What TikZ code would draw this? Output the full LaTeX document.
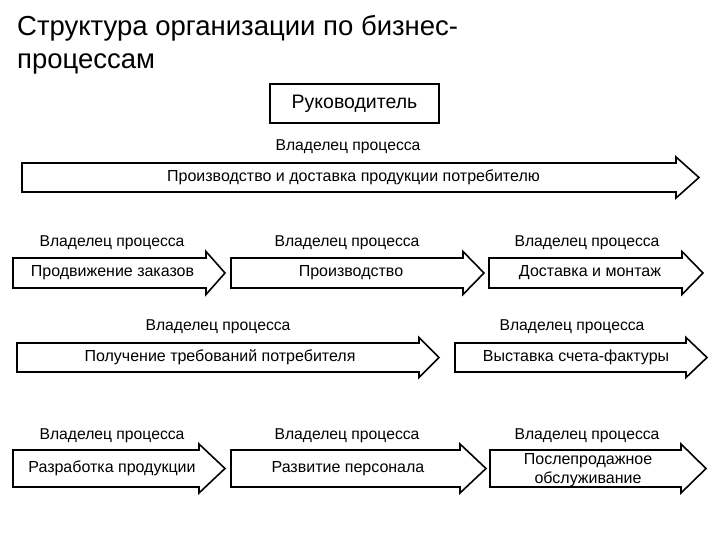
\documentclass[tikz,border=0pt]{standalone}
\usepackage{fontspec}
\setmainfont{Liberation Sans}
\begin{document}
\begin{tikzpicture}[x=1pt,y=-1pt,
    procShape/.style={draw=black, line width=1.6pt, fill=white, line join=miter},
    procText/.style={font=\fontsize{16}{18}\selectfont, align=center, inner sep=0pt},
    ownerLabel/.style={font=\fontsize{15.7}{18}\selectfont, inner sep=0pt},
  ]
  \useasboundingbox (0,0) rectangle (720,540);

  % arrow: tail x, tip x, axis y, half body, half head, head length
  \newcommand{\procArrow}[6]{%
    \draw[procShape] (#1,#3-#4) -- (#2-#6,#3-#4) -- (#2-#6,#3-#5) -- (#2,#3)
      -- (#2-#6,#3+#5) -- (#2-#6,#3+#4) -- (#1,#3+#4) -- cycle;}

  \pgfmathsetmacro{\rowA}{177.5}
  \pgfmathsetmacro{\rowB}{273}
  \pgfmathsetmacro{\rowC}{357.5}
  \pgfmathsetmacro{\rowD}{468.5}

  % title and head
  \node[anchor=north west, align=left, inner sep=0pt,
    font=\fontsize{27.5}{33}\selectfont] (title) at (17,15)
    {Структура организации по бизнес-\\процессам};
  \node[draw, line width=1.6pt, minimum width=169pt, minimum height=39pt,
    font=\fontsize{19.5}{22}\selectfont] (boss) at (354.5,103.5) {Руководитель};

  % row 1
  \procArrow{22}{699}{\rowA}{14.5}{20.5}{23}
  \node[procText] (deliveryAll) at (353.5,\rowA)
    {Производство и доставка продукции потребителю};
  \node[ownerLabel] (ownerA) at (348,147) {Владелец процесса};

  % row 2
  \procArrow{13}{225}{\rowB}{15}{21.5}{19}
  \procArrow{231}{484}{\rowB}{15}{21.5}{21}
  \procArrow{489}{703}{\rowB}{15}{21.5}{21}
  \node[procText] (orders) at (112.5,\rowB) {Продвижение заказов};
  \node[procText] (making) at (351,\rowB) {Производство};
  \node[procText] (install) at (590,\rowB) {Доставка и монтаж};
  \node[ownerLabel] (ownerB1) at (112,243) {Владелец процесса};
  \node[ownerLabel] (ownerB2) at (347,243) {Владелец процесса};
  \node[ownerLabel] (ownerB3) at (587,243) {Владелец процесса};

  % row 3
  \procArrow{17}{439}{\rowC}{14.5}{20}{20}
  \procArrow{455}{707}{\rowC}{14.5}{20}{21}
  \node[procText] (needs) at (220,\rowC) {Получение требований потребителя};
  \node[procText] (invoice) at (576,\rowC) {Выставка счета-фактуры};
  \node[ownerLabel] (ownerC1) at (218,327) {Владелец процесса};
  \node[ownerLabel] (ownerC2) at (572,327) {Владелец процесса};

  % row 4
  \procArrow{13}{225}{\rowD}{18.5}{24.5}{26}
  \procArrow{231}{486}{\rowD}{18.5}{24.5}{26}
  \procArrow{490}{706}{\rowD}{18.5}{24.5}{25}
  \node[procText] (design) at (112,\rowD) {Разработка продукции};
  \node[procText] (staff) at (348,\rowD) {Развитие персонала};
  \node[procText, font=\fontsize{16}{19.5}\selectfont] (service) at (588,\rowD+1.5)
    {Послепродажное\\обслуживание};
  \node[ownerLabel] (ownerD1) at (112,436) {Владелец процесса};
  \node[ownerLabel] (ownerD2) at (347,436) {Владелец процесса};
  \node[ownerLabel] (ownerD3) at (587,436) {Владелец процесса};
\end{tikzpicture}
\end{document}
